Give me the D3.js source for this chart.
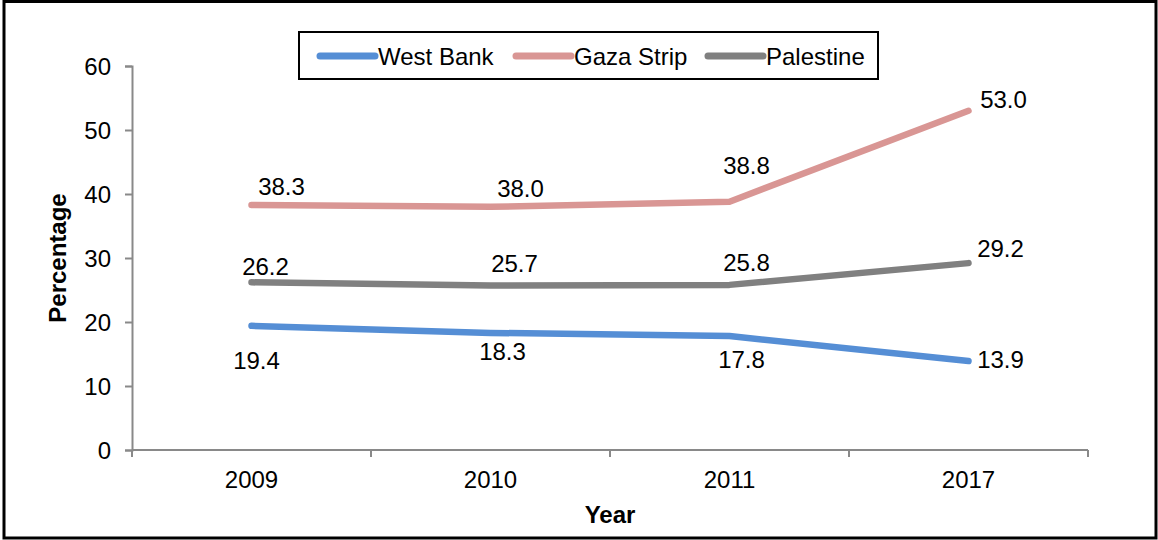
<!DOCTYPE html>
<html>
<head>
<meta charset="utf-8">
<script src="https://cdn.jsdelivr.net/npm/d3@7"></script>
<style>
  body { margin: 0; background: #fff; }
  svg text { font-family: "Liberation Sans", Arial, sans-serif; fill: #000; }
</style>
</head>
<body>
<div id="chart-area"></div>
<script>
// data
const years = ["2009", "2010", "2011", "2017"]
const westBank = [19.4, 18.3, 17.8, 13.9]
const gazaStrip = [38.3, 38.0, 38.8, 53.0]
const palestine = [26.2, 25.7, 25.8, 29.2]
const yTicks = [0, 10, 20, 30, 40, 50, 60]

const seriesNames = ["West Bank", "Gaza Strip", "Palestine"]
const seriesColors = ["#558ED5", "#D99694", "#808080"]

// hand-placed label nudges (dx to label centre, dy to baseline), as in the original
const labelNudge = {
  "West Bank":  [[5, 43], [12, 27], [12, 32], [32, 7]],
  "Gaza Strip": [[30, -10], [30, -10], [17, -28], [35, -3]],
  "Palestine":  [[14, -7], [24, -14], [17, -14], [32, -6]]
}

const W = 1158, H = 540
const MARGIN = { LEFT: 132, RIGHT: 70, TOP: 66, BOTTOM: 90 }

const svg = d3.select("#chart-area").append("svg")
  .attr("width", W)
  .attr("height", H)

// outer frame
svg.append("rect")
  .attr("x", 4).attr("y", 1.5)
  .attr("width", 1152).attr("height", 536.5)
  .attr("fill", "none")
  .attr("stroke", "#000")
  .attr("stroke-width", 3)

const x = d3.scaleBand()
  .domain(years)
  .range([MARGIN.LEFT, W - MARGIN.RIGHT])

const y = d3.scaleLinear()
  .domain([0, 60])
  .range([H - MARGIN.BOTTOM, MARGIN.TOP])

const axisColor = "#898989"

// y axis
const yAxis = svg.append("g")
  .attr("transform", `translate(${MARGIN.LEFT},0)`)
  .call(d3.axisLeft(y).tickValues(yTicks).tickSize(7).tickPadding(14))
yAxis.selectAll("path, line").attr("stroke", axisColor).attr("stroke-width", 2)
yAxis.selectAll("text").attr("font-size", "24px").attr("dy", "0.35em")

// x axis: labels centred in bands, ticks on band edges
const xAxis = svg.append("g")
  .attr("transform", `translate(0,${y(0)})`)
  .call(d3.axisBottom(x).tickSize(0).tickPadding(21))
xAxis.select(".domain").remove()
xAxis.selectAll("text").attr("font-size", "24px")

xAxis.append("line")
  .attr("x1", x.range()[0]).attr("x2", x.range()[1])
  .attr("stroke", axisColor).attr("stroke-width", 2)

const edges = years.map(d => x(d)).concat([x(years[years.length - 1]) + x.bandwidth()])
xAxis.selectAll(".edge")
  .data(edges)
  .enter().append("line")
  .attr("class", "edge")
  .attr("x1", d => d).attr("x2", d => d)
  .attr("y1", 0).attr("y2", 7)
  .attr("stroke", axisColor).attr("stroke-width", 2)

// axis titles
svg.append("text")
  .attr("x", x.range()[0] + (x.range()[1] - x.range()[0]) / 2)
  .attr("y", 523)
  .attr("text-anchor", "middle")
  .attr("font-size", "24px")
  .attr("font-weight", "bold")
  .text("Year")

svg.append("text")
  .attr("transform", `translate(66,${(y(0) + y(60)) / 2}) rotate(-90)`)
  .attr("text-anchor", "middle")
  .attr("font-size", "24px")
  .attr("font-weight", "bold")
  .text("Percentage")

// series
const series = [westBank, gazaStrip, palestine].map((vals, i) => ({
  name: seriesNames[i],
  color: seriesColors[i],
  values: vals.map((v, j) => ({ year: years[j], value: v }))
}))

const line = d3.line()
  .x(d => x(d.year) + x.bandwidth() / 2)
  .y(d => y(d.value))

svg.selectAll(".series")
  .data(series)
  .enter().append("path")
  .attr("class", "series")
  .attr("d", d => line(d.values))
  .attr("fill", "none")
  .attr("stroke", d => d.color)
  .attr("stroke-width", 6.5)
  .attr("stroke-linecap", "round")
  .attr("stroke-linejoin", "round")

series.forEach(s => {
  svg.selectAll(null)
    .data(s.values)
    .enter().append("text")
    .attr("x", (d, i) => x(d.year) + x.bandwidth() / 2 + labelNudge[s.name][i][0])
    .attr("y", (d, i) => y(d.value) + labelNudge[s.name][i][1])
    .attr("text-anchor", "middle")
    .attr("font-size", "24px")
    .text(d => d.value.toFixed(1))
})

// legend
const legend = svg.append("g")
legend.append("rect")
  .attr("x", 299).attr("y", 32)
  .attr("width", 579).attr("height", 47)
  .attr("fill", "#fff")
  .attr("stroke", "#000")
  .attr("stroke-width", 2)

const legendX = [320, 516, 708]
const items = legend.selectAll(".item")
  .data(series)
  .enter().append("g")
  .attr("class", "item")
  .attr("transform", (d, i) => `translate(${legendX[i]},56)`)

items.append("line")
  .attr("x1", 0).attr("x2", 55)
  .attr("stroke", d => d.color)
  .attr("stroke-width", 7)
  .attr("stroke-linecap", "round")

items.append("text")
  .attr("x", 58)
  .attr("y", 8.5)
  .attr("font-size", "24px")
  .text(d => d.name)
</script>
</body>
</html>
